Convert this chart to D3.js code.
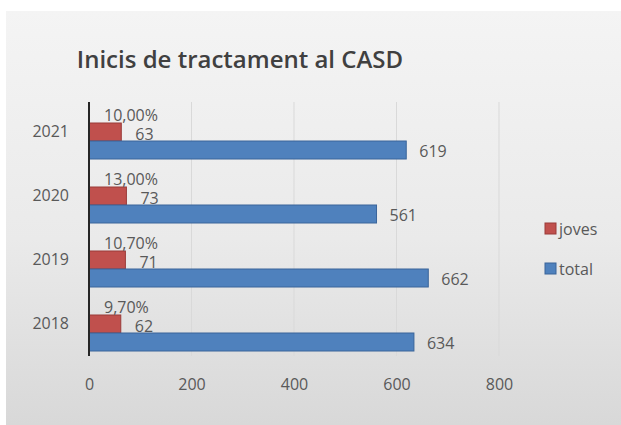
<!DOCTYPE html>
<html>
<head>
<meta charset="utf-8">
<script src="https://cdn.jsdelivr.net/npm/d3@7"></script>
<style>
  body { margin: 0; background: #fff; }
  text { font-family: "Open Sans", sans-serif; }
</style>
</head>
<body>
<div id="chart"></div>
<script>
// data
var years = ["2021", "2020", "2019", "2018"];
var joves = [63, 73, 71, 62];
var total = [619, 561, 662, 634];
var pct = ["10,00%", "13,00%", "10,70%", "9,70%"];
var xTicks = [0, 200, 400, 600, 800];
var seriesNames = ["joves", "total"];
var seriesColors = ["#c0504d", "#4f81bd"];
var seriesStroke = ["#9a3b39", "#3a659a"];

var svgWidth = 621, svgHeight = 425;

var svg = d3.select("#chart").append("svg")
  .attr("width", svgWidth)
  .attr("height", svgHeight);

// grey panel behind the chart
var grad = svg.append("defs").append("linearGradient")
  .attr("id", "bg").attr("x1", 0).attr("y1", 0).attr("x2", 0).attr("y2", 1);
grad.append("stop").attr("offset", "0%").attr("stop-color", "#f4f4f4");
grad.append("stop").attr("offset", "55%").attr("stop-color", "#eaeaea");
grad.append("stop").attr("offset", "100%").attr("stop-color", "#d8d8d8");

svg.append("rect")
  .attr("x", 6).attr("y", 11)
  .attr("width", svgWidth - 6).attr("height", svgHeight - 11)
  .attr("fill", "url(#bg)");

var x = d3.scaleLinear().domain([0, 800]).range([89, 499]);
var y = d3.scaleBand().domain(years).range([109, 365]);
var barH = 18;
var plotTop = 102, plotBottom = 356;

// title
svg.append("text")
  .attr("x", 240).attr("y", 68)
  .attr("text-anchor", "middle")
  .attr("font-size", 24)
  .attr("font-weight", 600)
  .attr("fill", "#404040")
  .text("Inicis de tractament al CASD");

// gridlines
svg.selectAll(".grid")
  .data(xTicks.slice(1))
  .enter().append("line")
  .attr("x1", d => x(d)).attr("x2", d => x(d))
  .attr("y1", plotTop).attr("y2", plotBottom)
  .attr("stroke", "#d9d9d9")
  .attr("stroke-width", 1);

// x tick labels
var xAxis = d3.axisBottom(x).tickValues(xTicks).tickSize(0).tickPadding(0);
var gx = svg.append("g")
  .attr("transform", "translate(0,379)")
  .call(xAxis);
gx.select(".domain").remove();
gx.selectAll("text")
  .attr("font-family", "'Open Sans', sans-serif")
  .attr("font-size", 16)
  .attr("fill", "#595959");

var rows = years.map((yr, i) => ({ year: yr, joves: joves[i], total: total[i], pct: pct[i] }));

// joves bars
svg.selectAll(".bar-j")
  .data(rows)
  .enter().append("rect")
  .attr("x", x(0))
  .attr("y", d => y(d.year) + y.bandwidth() / 2 - barH)
  .attr("width", d => x(d.joves) - x(0))
  .attr("height", barH)
  .attr("fill", seriesColors[0])
  .attr("stroke", seriesStroke[0])
  .attr("stroke-width", 1);

// total bars
svg.selectAll(".bar-t")
  .data(rows)
  .enter().append("rect")
  .attr("x", x(0))
  .attr("y", d => y(d.year) + y.bandwidth() / 2)
  .attr("width", d => x(d.total) - x(0))
  .attr("height", barH)
  .attr("fill", seriesColors[1])
  .attr("stroke", seriesStroke[1])
  .attr("stroke-width", 1);

// vertical axis line
svg.append("line")
  .attr("x1", x(0)).attr("x2", x(0))
  .attr("y1", plotTop).attr("y2", plotBottom)
  .attr("stroke", "#262626")
  .attr("stroke-width", 2);

// category labels
svg.selectAll(".ylab")
  .data(rows)
  .enter().append("text")
  .attr("x", 69)
  .attr("y", d => y(d.year) + y.bandwidth() / 2 - 10)
  .attr("dy", "0.35em")
  .attr("text-anchor", "end")
  .attr("font-size", 16)
  .attr("fill", "#595959")
  .text(d => d.year);

// percentage labels
svg.selectAll(".pct")
  .data(rows)
  .enter().append("text")
  .attr("x", x(0) + 15)
  .attr("y", d => y(d.year) + y.bandwidth() / 2 - barH / 2 - 17)
  .attr("dy", "0.35em")
  .attr("font-size", 16)
  .attr("fill", "#595959")
  .text(d => d.pct);

// joves value labels
svg.selectAll(".vj")
  .data(rows)
  .enter().append("text")
  .attr("x", d => x(d.joves) + 14)
  .attr("y", d => y(d.year) + y.bandwidth() / 2 - barH / 2 + 2)
  .attr("dy", "0.35em")
  .attr("font-size", 16)
  .attr("fill", "#595959")
  .text(d => d.joves);

// total value labels
svg.selectAll(".vt")
  .data(rows)
  .enter().append("text")
  .attr("x", d => x(d.total) + 13)
  .attr("y", d => y(d.year) + y.bandwidth() / 2 + barH / 2 + 1)
  .attr("dy", "0.35em")
  .attr("font-size", 16)
  .attr("fill", "#595959")
  .text(d => d.total);

// legend
var legend = svg.selectAll(".leg")
  .data(seriesNames)
  .enter().append("g")
  .attr("transform", (d, i) => `translate(545, ${223 + i * 40})`);
legend.append("rect")
  .attr("width", 11).attr("height", 11)
  .attr("fill", (d, i) => seriesColors[i])
  .attr("stroke", (d, i) => seriesStroke[i]);
legend.append("text")
  .attr("x", 14).attr("y", 6)
  .attr("dy", "0.35em")
  .attr("font-size", 16)
  .attr("fill", "#595959")
  .text(d => d);
</script>
</body>
</html>
